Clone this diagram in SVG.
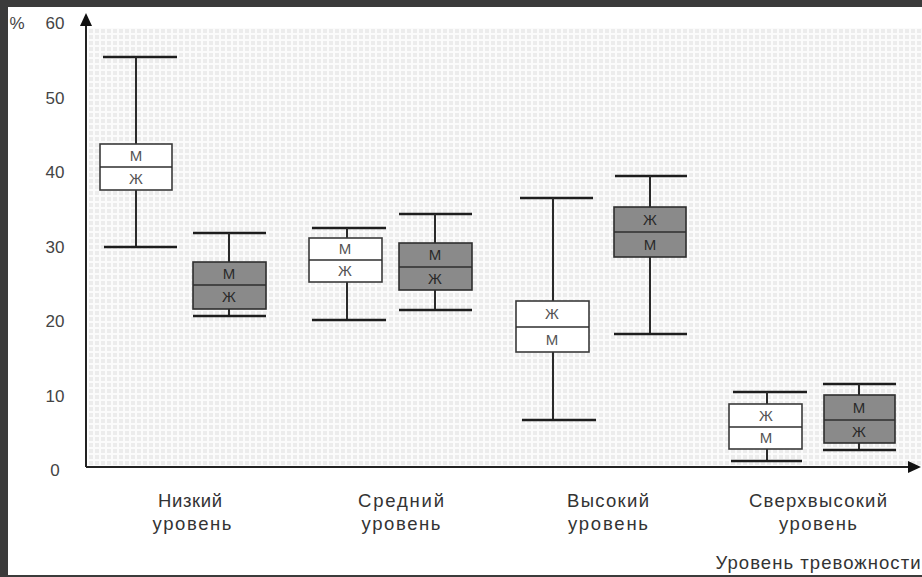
<svg xmlns="http://www.w3.org/2000/svg" width="922" height="577" viewBox="0 0 922 577">
<defs>
<pattern id="grid" width="6" height="6" patternUnits="userSpaceOnUse" x="88" y="28">
<rect width="6" height="6" fill="#fbfbfb"/>
<rect x="1" y="1" width="4" height="4" fill="#ececec"/>
</pattern>
<marker id="arr" markerWidth="13" markerHeight="13" refX="11" refY="6.5" orient="auto" markerUnits="userSpaceOnUse">
<path d="M0,0.5 L13,6.5 L0,12.5 Z" fill="#111"/>
</marker>
<style>
.whisk{stroke:#1e1e1e;stroke-width:2.5;fill:none}
.stem{stroke:#2a2a2a;stroke-width:2;fill:none}
.bw{fill:#ffffff;stroke:#3a3a3a;stroke-width:1.6}
.bg{fill:#8a8a8a;stroke:#2e2e2e;stroke-width:1.6}
.mid{stroke:#2e2e2e;stroke-width:1.6}
.lw{font-family:"Liberation Sans",Arial,sans-serif;font-size:15px;fill:#555;text-anchor:middle}
.lg{font-family:"Liberation Sans",Arial,sans-serif;font-size:15px;fill:#2a2a2a;text-anchor:middle}
.tick{font-family:"Liberation Sans",Arial,sans-serif;font-size:17px;fill:#444;text-anchor:middle}
.cat{font-family:"Liberation Sans",Arial,sans-serif;font-size:18.5px;fill:#333;text-anchor:middle}
.axis{stroke:#222;stroke-width:2;fill:none}
</style>
</defs>
<rect width="922" height="577" fill="#ffffff"/>
<rect x="88" y="28" width="834" height="438" fill="url(#grid)"/>
<g id="frame" fill="#3b3b3b">
<rect x="0" y="0" width="922" height="7"/>
<rect x="0" y="0" width="8" height="577"/>
<rect x="0" y="575" width="922" height="2"/>
</g>
<g id="connectors">
<line class="axis" x1="86" y1="467" x2="86" y2="15" marker-end="url(#arr)"/>
<line class="axis" x1="86" y1="467" x2="919" y2="467" marker-end="url(#arr)"/>
</g>
<g id="y-labels">
<text x="17" y="29" class="tick">%</text>
<text x="55" y="29" class="tick">60</text>
<text x="55" y="104" class="tick">50</text>
<text x="55" y="178" class="tick">40</text>
<text x="55" y="253" class="tick">30</text>
<text x="55" y="327" class="tick">20</text>
<text x="55" y="402" class="tick">10</text>
<text x="55" y="476" class="tick">0</text>
</g>
<g id="box-low-white">
<line class="whisk" x1="103" y1="57" x2="177" y2="57"/>
<line class="stem" x1="136" y1="57" x2="136" y2="247"/>
<line class="whisk" x1="104" y1="247" x2="177" y2="247"/>
<rect class="bw" x="100" y="144" width="72" height="46"/>
<line class="mid" x1="100" y1="167" x2="172" y2="167"/>
<text class="lw" x="136" y="161">М</text>
<text class="lw" x="136" y="184">Ж</text>
</g>
<g id="box-low-gray">
<line class="whisk" x1="193" y1="233" x2="266" y2="233"/>
<line class="stem" x1="229" y1="233" x2="229" y2="316"/>
<line class="whisk" x1="193" y1="316" x2="266" y2="316"/>
<rect class="bg" x="193" y="262" width="73" height="47"/>
<line class="mid" x1="193" y1="285" x2="266" y2="285"/>
<text class="lg" x="229" y="279">М</text>
<text class="lg" x="229" y="302">Ж</text>
</g>
<g id="box-mid-white">
<line class="whisk" x1="312" y1="228" x2="386" y2="228"/>
<line class="stem" x1="347" y1="228" x2="347" y2="320"/>
<line class="whisk" x1="312" y1="320" x2="386" y2="320"/>
<rect class="bw" x="309" y="238" width="73" height="44"/>
<line class="mid" x1="309" y1="260" x2="382" y2="260"/>
<text class="lw" x="345" y="254">М</text>
<text class="lw" x="345" y="276">Ж</text>
</g>
<g id="box-mid-gray">
<line class="whisk" x1="399" y1="214" x2="472" y2="214"/>
<line class="stem" x1="435" y1="214" x2="435" y2="310"/>
<line class="whisk" x1="399" y1="310" x2="472" y2="310"/>
<rect class="bg" x="399" y="243" width="73" height="47"/>
<line class="mid" x1="399" y1="267" x2="472" y2="267"/>
<text class="lg" x="435" y="260">М</text>
<text class="lg" x="435" y="284">Ж</text>
</g>
<g id="box-high-white">
<line class="whisk" x1="520" y1="198" x2="593" y2="198"/>
<line class="stem" x1="553" y1="198" x2="553" y2="420"/>
<line class="whisk" x1="522" y1="420" x2="596" y2="420"/>
<rect class="bw" x="516" y="301" width="73" height="51"/>
<line class="mid" x1="516" y1="327" x2="589" y2="327"/>
<text class="lw" x="552" y="319">Ж</text>
<text class="lw" x="552" y="345">М</text>
</g>
<g id="box-high-gray">
<line class="whisk" x1="615" y1="176" x2="687" y2="176"/>
<line class="stem" x1="650" y1="176" x2="650" y2="334"/>
<line class="whisk" x1="614" y1="334" x2="687" y2="334"/>
<rect class="bg" x="614" y="207" width="72" height="50"/>
<line class="mid" x1="614" y1="232" x2="686" y2="232"/>
<text class="lg" x="650" y="225">Ж</text>
<text class="lg" x="650" y="250">М</text>
</g>
<g id="box-veryhigh-white">
<line class="whisk" x1="733" y1="392" x2="807" y2="392"/>
<line class="stem" x1="767" y1="392" x2="767" y2="461"/>
<line class="whisk" x1="731" y1="461" x2="802" y2="461"/>
<rect class="bw" x="729" y="404" width="73" height="45"/>
<line class="mid" x1="729" y1="427" x2="802" y2="427"/>
<text class="lw" x="766" y="421">Ж</text>
<text class="lw" x="766" y="443">М</text>
</g>
<g id="box-veryhigh-gray">
<line class="whisk" x1="823" y1="384" x2="896" y2="384"/>
<line class="stem" x1="859" y1="384" x2="859" y2="450"/>
<line class="whisk" x1="823" y1="450" x2="896" y2="450"/>
<rect class="bg" x="824" y="395" width="71" height="48"/>
<line class="mid" x1="824" y1="420" x2="895" y2="420"/>
<text class="lg" x="859" y="413">М</text>
<text class="lg" x="859" y="437">Ж</text>
</g>
<g id="x-labels">
<text class="cat" x="190" y="507" textLength="64" lengthAdjust="spacing">Низкий</text>
<text class="cat" x="192" y="530" textLength="79" lengthAdjust="spacing">уровень</text>
<text class="cat" x="401" y="507" textLength="86" lengthAdjust="spacing">Средний</text>
<text class="cat" x="401" y="530" textLength="79" lengthAdjust="spacing">уровень</text>
<text class="cat" x="608" y="507" textLength="82" lengthAdjust="spacing">Высокий</text>
<text class="cat" x="608" y="530" textLength="80" lengthAdjust="spacing">уровень</text>
<text class="cat" x="818" y="507" textLength="138" lengthAdjust="spacing">Сверхвысокий</text>
<text class="cat" x="818" y="530" textLength="78" lengthAdjust="spacing">уровень</text>
<text class="cat" x="818" y="569" textLength="205" lengthAdjust="spacing">Уровень тревожности</text>
</g>
</svg>
